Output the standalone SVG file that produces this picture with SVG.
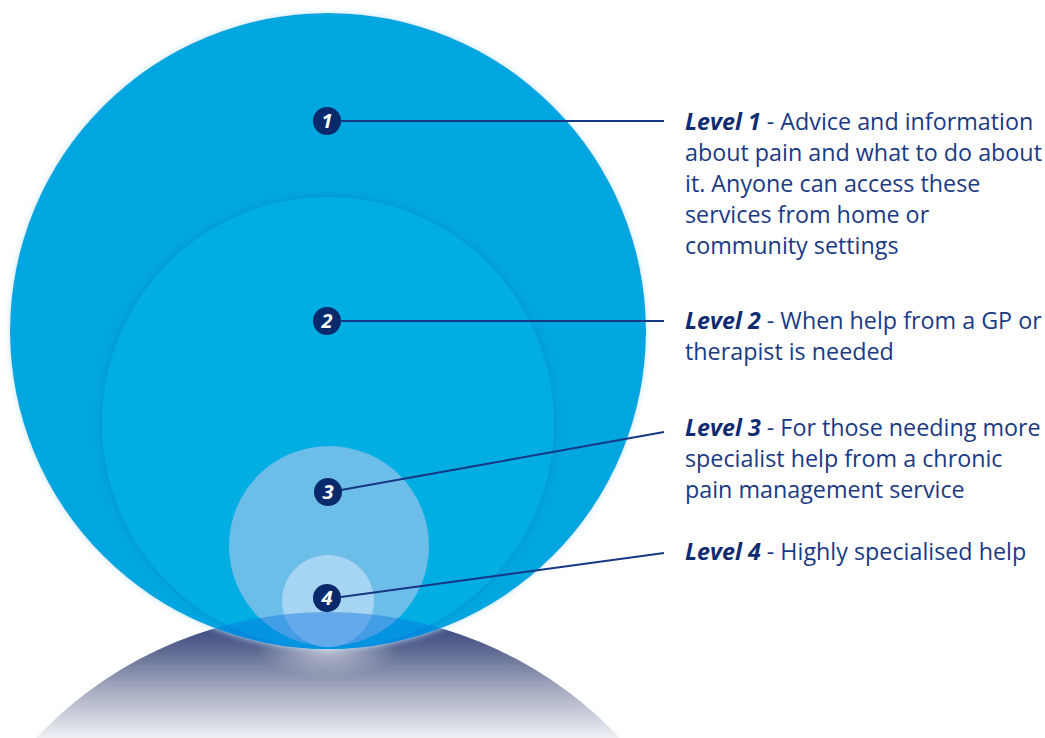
<svg xmlns="http://www.w3.org/2000/svg" width="1045" height="738" viewBox="0 0 1045 738">
<style>
.lvl{font-family:"Open Sans","Noto Sans",sans-serif;font-size:23.3px;fill:#1b3a84}
.b{font-weight:bold;font-style:italic;fill:#0f2c72}
.badge{fill:#082a6c}
.num{font-family:"Open Sans","Liberation Sans",sans-serif;font-size:20px;font-weight:bold;font-style:italic;fill:#fff;text-anchor:middle}
.conn{stroke:#163783;stroke-width:2;fill:none}
</style>
<defs>
<filter id="glow" x="-10%" y="-10%" width="120%" height="120%">
<feGaussianBlur in="SourceAlpha" stdDeviation="4"/>
<feFlood flood-color="#bfe6f7"/>
<feComposite operator="in" in2="SourceAlpha"/>
<feGaussianBlur stdDeviation="3"/>
<feMerge><feMergeNode/><feMergeNode in="SourceGraphic"/></feMerge>
</filter>
<filter id="shade" x="-10%" y="-10%" width="120%" height="120%">
<feGaussianBlur in="SourceAlpha" stdDeviation="5"/>
<feFlood flood-color="#0086cc" flood-opacity="0.7"/>
<feComposite operator="in" in2="SourceAlpha"/>
<feGaussianBlur stdDeviation="4"/>
<feMerge><feMergeNode/><feMergeNode in="SourceGraphic"/></feMerge>
</filter>
<linearGradient id="dome" gradientUnits="userSpaceOnUse" x1="0" y1="612" x2="0" y2="738">
<stop offset="0" stop-color="#27387a"/>
<stop offset="0.3" stop-color="#5d6891"/>
<stop offset="0.6" stop-color="#a2a8bd"/>
<stop offset="1" stop-color="#eef0f4"/>
</linearGradient>
<radialGradient id="spot" gradientUnits="userSpaceOnUse" cx="328" cy="650" r="70" gradientTransform="translate(328 650) scale(1 0.4) translate(-328 -650)">
<stop offset="0" stop-color="#ffffff" stop-opacity="0.55"/>
<stop offset="1" stop-color="#ffffff" stop-opacity="0"/>
</radialGradient>
<clipPath id="c1"><circle cx="328" cy="331" r="318"/></clipPath>
<clipPath id="domeClip"><circle cx="328" cy="1013" r="401"/></clipPath>
</defs>

<g id="base">
<circle cx="328" cy="1013" r="401" fill="url(#dome)"/>
<ellipse cx="328" cy="652" rx="80" ry="30" fill="url(#spot)" clip-path="url(#domeClip)"/>
</g>

<g id="level1">
<circle cx="328" cy="331" r="318" fill="#03a6e0" filter="url(#glow)"/>
</g>
<g id="level2">
<circle cx="328" cy="423" r="226" fill="#00aee3" filter="url(#shade)" clip-path="url(#c1)"/>
</g>
<g id="level3">
<circle cx="329" cy="546" r="100" fill="#6dbde9"/>
</g>
<g id="level4">
<circle cx="328" cy="601" r="46" fill="#a6d5f3"/>
</g>
<g id="overlap" clip-path="url(#c1)">
<circle cx="328" cy="1013" r="401" fill="#0a6fe0" opacity="0.42"/>
</g>

<g id="connectors">
<line class="conn" x1="341" y1="121" x2="664" y2="121"/>
<line class="conn" x1="341" y1="321" x2="664" y2="321"/>
<line class="conn" x1="341" y1="490" x2="664" y2="432"/>
<line class="conn" x1="341" y1="597" x2="664" y2="553"/>
</g>

<g id="badge1"><circle class="badge" cx="327" cy="121" r="14"/><text class="num" x="327" y="128">1</text></g>
<g id="badge2"><circle class="badge" cx="327" cy="321" r="14"/><text class="num" x="327" y="328">2</text></g>
<g id="badge3"><circle class="badge" cx="328" cy="492" r="14"/><text class="num" x="328" y="499">3</text></g>
<g id="badge4"><circle class="badge" cx="327" cy="598" r="14"/><text class="num" x="327" y="605">4</text></g>

<g id="label1" class="lvl">
<text x="685" y="130"><tspan class="b">Level 1</tspan> - Advice and information</text>
<text x="685" y="161">about pain and what to do about</text>
<text x="685" y="192">it. Anyone can access these</text>
<text x="685" y="223">services from home or</text>
<text x="685" y="254">community settings</text>
</g>
<g id="label2" class="lvl">
<text x="685" y="329"><tspan class="b">Level 2</tspan> - When help from a GP or</text>
<text x="685" y="360">therapist is needed</text>
</g>
<g id="label3" class="lvl">
<text x="685" y="436"><tspan class="b">Level 3</tspan> - For those needing more</text>
<text x="685" y="467">specialist help from a chronic</text>
<text x="685" y="498">pain management service</text>
</g>
<g id="label4" class="lvl">
<text x="685" y="560"><tspan class="b">Level 4</tspan> - Highly specialised help</text>
</g>
</svg>
